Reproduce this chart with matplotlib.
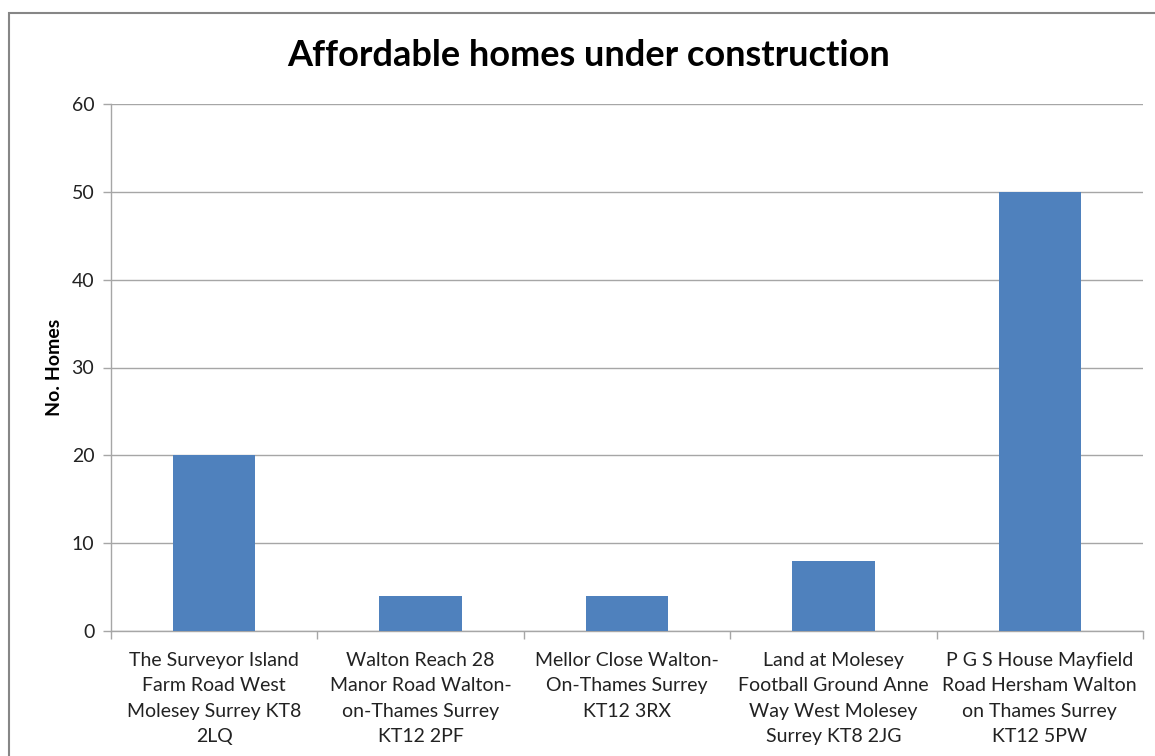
import matplotlib
matplotlib.use("Agg")
import matplotlib.pyplot as plt
from matplotlib.patches import Rectangle

categories = [
    "The Surveyor Island\nFarm Road West\nMolesey Surrey KT8\n2LQ",
    "Walton Reach 28\nManor Road Walton-\non-Thames Surrey\nKT12 2PF",
    "Mellor Close Walton-\nOn-Thames Surrey\nKT12 3RX",
    "Land at Molesey\nFootball Ground Anne\nWay West Molesey\nSurrey KT8 2JG",
    "P G S House Mayfield\nRoad Hersham Walton\non Thames Surrey\nKT12 5PW",
]
values = [20, 4, 4, 8, 50]
yticks = [0, 10, 20, 30, 40, 50, 60]

plt.rcParams['font.family'] = ['Lato', 'DejaVu Sans']

W, H = 1155, 756
fig = plt.figure(figsize=(W / 100, H / 100), dpi=100)
ax = fig.add_axes([111 / W, 1 - 631 / H, (1143 - 111) / W, (631 - 104) / H])

# outer chart border
fig.patches.append(Rectangle((9 / W, -0.1), 1.2, 1 - 13 / H + 0.1,
                             transform=fig.transFigure, fill=False,
                             edgecolor='#868686', linewidth=1.5))

x = list(range(len(categories)))
ax.bar(x, values, width=0.4, color='#4F81BD', zorder=3)
ax.set_xlim(-0.5, len(categories) - 0.5)
ax.set_ylim(0, 60)
ax.set_yticks(yticks)
ax.set_yticklabels([str(v) for v in yticks], fontsize=14, color='#222222')
ax.yaxis.grid(True, color='#A6A6A6', linewidth=1.0, zorder=0)
ax.set_axisbelow(True)

ax.set_xticks(x)
ax.set_xticklabels(categories, fontsize=14, color='#222222', linespacing=1.6)
ax.tick_params(axis='x', length=0, pad=15)
ax.set_xticks([i + 0.5 for i in range(-1, len(categories))], minor=True)
ax.tick_params(axis='x', which='minor', length=6, color='#A6A6A6', width=1.0)
ax.tick_params(axis='y', length=6, color='#A6A6A6', width=1.0, pad=6)

for s in ['top', 'right']:
    ax.spines[s].set_visible(False)
for s in ['left', 'bottom']:
    ax.spines[s].set_color('#A6A6A6')
    ax.spines[s].set_linewidth(1.0)

ax.set_ylabel("No. Homes", fontsize=14, fontweight='bold', labelpad=6)
fig.text(589 / W, 1 - 56 / H, "Affordable homes under construction",
         fontsize=26, fontweight='bold', ha='center', va='center')

fig.savefig("out.png", dpi=100)
